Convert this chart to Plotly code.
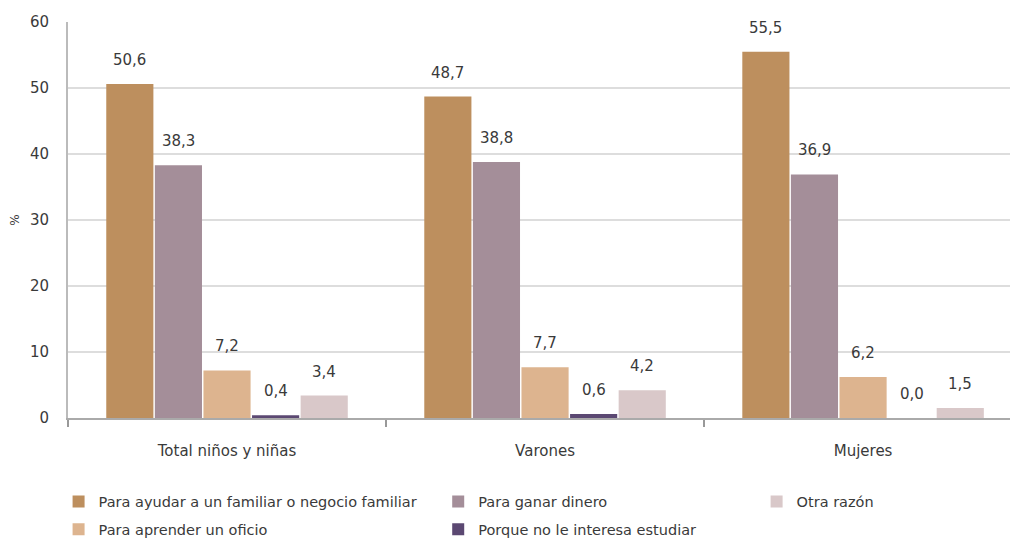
import plotly.graph_objects as go

categories = ["Total niños y niñas", "Varones", "Mujeres"]
series_names = [
    "Para ayudar a un familiar o negocio familiar",
    "Para ganar dinero",
    "Para aprender un oficio",
    "Porque no le interesa estudiar",
    "Otra razón",
]
ayudar = [50.6, 48.7, 55.5]
ganar = [38.3, 38.8, 36.9]
aprender = [7.2, 7.7, 6.2]
porque = [0.4, 0.6, 0.0]
otra = [3.4, 4.2, 1.5]
series_values = [ayudar, ganar, aprender, porque, otra]
colors = ["#BD8F5E", "#A48E99", "#DDB48F", "#5B4872", "#D9C8C9"]
legend_ids = ["legend", "legend2", "legend", "legend2", "legend3"]
y_ticks = [0, 10, 20, 30, 40, 50, 60]

BARGAP = 0.236
GROUPGAP = 0.03
TXT = "#3a3a3a"
FONT = "DejaVu Sans"

fig = go.Figure()
for i, (name, vals) in enumerate(zip(series_names, series_values)):
    fig.add_trace(go.Bar(
        x=categories, y=vals, name=name,
        marker=dict(color=colors[i], line=dict(width=0)),
        legend=legend_ids[i], legendgroup=name,
    ))

# value labels above each bar, placed via the category axis
n = len(series_names)
slot = (1 - BARGAP) / n
for i, vals in enumerate(series_values):
    for c, v in enumerate(vals):
        xc = c - (1 - BARGAP) / 2 + slot * (i + 0.5)
        fig.add_annotation(
            x=xc, y=v, xref="x", yref="y", text=f"{v:.1f}".replace(".", ","),
            showarrow=False, yshift=24, font=dict(family=FONT, size=15, color=TXT),
        )

legend_common = dict(yref="container", y=0.101, xanchor="left", yanchor="top", orientation="v",
                     tracegroupgap=6, font=dict(family=FONT, size=14.5, color=TXT),
                     bgcolor="rgba(0,0,0,0)")

fig.update_layout(
    width=1010, height=540,
    margin=dict(l=68, r=0, t=22, b=122, autoexpand=False),
    paper_bgcolor="white", plot_bgcolor="white",
    barmode="group", bargap=BARGAP, bargroupgap=GROUPGAP,
    font=dict(family=FONT, size=14, color=TXT),
    xaxis=dict(
        type="category", range=[-0.5, 2.462], automargin=False,
        showline=True, linecolor="#AAAAAA", linewidth=2,
        ticks="outside", tickson="boundaries", ticklen=7, tickcolor="#999999", tickwidth=2,
        ticklabelstandoff=18,
        tickfont=dict(family=FONT, size=15, color=TXT),
        showgrid=False,
    ),
    yaxis=dict(
        range=[0, 60], tickvals=y_ticks, ticktext=[str(t) for t in y_ticks], automargin=False,
        showline=True, linecolor="#BBBBBB", linewidth=2,
        showgrid=True, gridcolor="#DDDDDD", gridwidth=2,
        zeroline=False, ticks="", ticklabelstandoff=14,
        tickfont=dict(family=FONT, size=15, color=TXT),
        title=dict(text="%", font=dict(family=FONT, size=12, color=TXT), standoff=8),
    ),
    legend=dict(x=-0.01, **legend_common),
    legend2=dict(x=0.393, **legend_common),
    legend3=dict(x=0.731, **legend_common),
)

fig.write_html("out.html")
